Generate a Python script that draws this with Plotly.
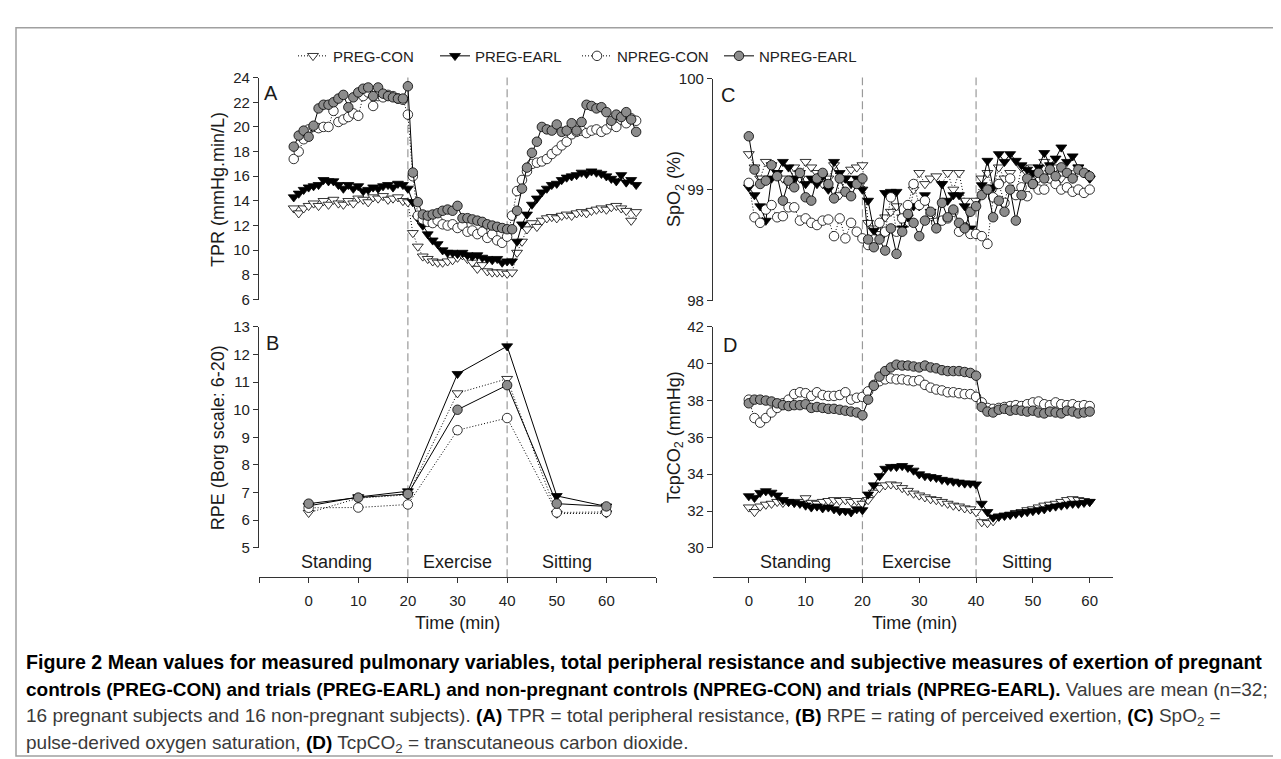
import plotly.graph_objects as go

W, H = 1281, 759
def px(x): return x / W
def py(y): return 1 - y / H

FONT = "Liberation Sans, Arial, sans-serif"

# ---------------- data ----------------
names = ["PREG-CON", "PREG-EARL", "NPREG-CON", "NPREG-EARL"]

# Panel A: TPR, one value per minute from -3 to 66
tA = list(range(-3, 67))
tpr_preg_con = [13.4, 13.0, 13.4, 13.6, 13.8, 13.6, 14.0, 13.7, 14.1, 13.8, 13.7, 14.0, 13.8, 14.2, 14.1, 13.9, 14.3, 14.2, 14.4, 14.1, 14.2, 14.3, 14.0, 13.9,
                11.4, 10.3, 9.5, 9.3, 9.1, 9.0, 9.0, 9.1, 9.2, 9.4, 9.6, 9.3, 9.0, 8.5, 8.8, 8.3, 8.2, 8.2, 8.2, 8.1,
                8.2, 9.8, 10.7, 11.7, 12.2, 11.9, 12.4, 12.6, 12.7, 12.6, 12.8, 12.9, 12.8, 13.0, 13.1, 13.0, 13.2, 13.3, 13.4, 13.3, 13.5, 13.6, 13.4, 13.2, 12.4, 13.1]
tpr_preg_earl = [14.3, 14.6, 14.9, 15.1, 15.2, 15.3, 15.7, 15.6, 15.6, 15.3, 15.0, 15.3, 15.0, 15.2, 14.8, 14.9, 15.1, 15.0, 15.2, 15.3, 15.1, 15.4, 15.3, 15.0,
                 13.9, 12.6, 12.0, 11.3, 10.8, 10.5, 10.0, 9.8, 9.8, 9.7, 9.8, 9.6, 9.5, 9.6, 9.4, 9.3, 9.2, 9.3, 9.0, 9.1,
                 9.1, 10.7, 12.1, 12.9, 13.7, 14.2, 14.7, 15.0, 15.3, 15.4, 15.7, 15.9, 16.0, 16.1, 16.3, 16.2, 16.4, 16.3, 16.2, 16.0, 15.8, 15.6, 16.1, 15.5, 15.7, 15.3]
tpr_npreg_con = [17.4, 18.0, 19.0, 19.8, 20.0, 19.9, 20.0, 20.0, 21.3, 20.4, 20.6, 20.8, 21.1, 20.9, 22.5, 22.8, 21.7, 22.5, 22.4, 22.6, 22.5, 22.3, 22.2, 21.0,
                 16.0, 12.8, 12.5, 12.3, 12.2, 12.4, 12.1, 12.0, 12.1, 11.8, 12.0, 11.5, 11.6, 11.3, 11.5, 11.0, 11.3, 10.8, 10.6, 11.1,
                 12.8, 14.8, 15.7, 16.4, 17.0, 17.1, 17.2, 17.4, 17.8, 18.1, 18.5, 18.8, 19.4, 19.6, 19.7, 19.5, 19.7, 19.8, 19.6, 19.8, 20.2, 20.0, 20.6, 20.3, 20.7, 20.5]
tpr_npreg_earl = [18.4, 19.3, 19.7, 19.2, 20.1, 21.5, 21.8, 21.8, 22.0, 22.3, 22.6, 21.6, 22.4, 22.8, 23.1, 23.2, 22.5, 23.2, 22.7, 22.5, 22.4, 22.3, 22.3, 23.3,
                  16.3, 13.9, 12.9, 12.8, 12.9, 13.0, 13.2, 13.3, 13.2, 13.6, 12.6, 12.6, 12.5, 12.4, 12.3, 12.1, 12.0, 11.9, 11.8, 11.7,
                  11.7, 13.2, 15.0, 16.7, 17.9, 18.8, 20.0, 19.8, 19.7, 20.2, 19.6, 19.7, 20.3, 19.7, 20.4, 21.8, 21.7, 21.5, 21.6, 21.2, 20.5, 21.0, 20.8, 21.2, 20.6, 19.6]

# Panel B: RPE
tB = [0, 10, 20, 30, 40, 50, 60]
rpe_preg_con = [6.27, 6.80, 6.92, 10.60, 11.12, 6.24, 6.25]
rpe_preg_earl = [6.52, 6.84, 7.05, 11.30, 12.30, 6.88, 6.50]
rpe_npreg_con = [6.45, 6.46, 6.57, 9.26, 9.70, 6.28, 6.30]
rpe_npreg_earl = [6.60, 6.82, 6.95, 10.00, 10.89, 6.60, 6.50]

# Panels C, D: one value per minute from 0 to 60
tC = list(range(0, 61))
spo2_preg_con = [99.32, 99.20, 99.10, 99.25, 99.22, 99.15, 99.10, 99.05, 99.20, 99.10, 99.25, 99.20, 99.15, 99.05, 99.10, 99.22, 98.95, 99.10, 99.18, 99.20, 99.22,
                 98.70, 98.65, 98.60, 98.75, 98.80, 98.85, 98.75, 98.70, 99.00, 99.15, 99.05, 99.10, 99.12, 99.05, 99.15, 99.00, 99.15, 98.90, 98.80, 98.90,
                 99.10, 99.15, 99.00, 99.20, 99.10, 99.15, 98.95, 99.20, 99.15, 99.20, 99.10, 99.25, 99.15, 99.20, 99.10, 99.15, 99.10, 99.20, 99.15, 99.10]
spo2_preg_earl = [99.02, 98.95, 98.85, 98.72, 99.10, 99.15, 99.25, 99.20, 99.10, 99.15, 99.05, 99.10, 99.05, 99.12, 99.00, 99.25, 99.15, 99.10, 99.05, 99.10, 99.00,
                  98.90, 98.63, 98.55, 98.97, 98.98, 98.98, 98.65, 98.75, 98.85, 98.85, 98.95, 98.80, 98.70, 99.05, 98.90, 98.95, 98.95, 98.85, 98.65, 98.60,
                  99.04, 99.26, 99.02, 99.32, 99.25, 99.32, 99.26, 99.22, 99.18, 99.15, 99.20, 99.33, 99.22, 99.28, 99.38, 99.25, 99.30, 99.20, 99.15, 99.10]
spo2_npreg_con = [99.06, 98.75, 98.70, 98.82, 98.86, 98.75, 98.76, 98.84, 98.84, 98.72, 98.74, 98.70, 98.68, 98.72, 98.73, 98.58, 98.74, 98.56, 98.70, 98.62, 98.56,
                  98.50, 98.55, 98.70, 98.62, 98.93, 98.62, 98.74, 98.86, 99.05, 98.86, 98.90, 98.78, 98.70, 98.72, 98.74, 98.80, 98.62, 98.66, 98.60, 98.60,
                  98.58, 98.51, 98.93, 99.05, 98.88, 99.10, 98.95, 99.02, 98.94, 99.05, 99.00, 99.00, 99.10, 99.05, 99.00, 99.02, 98.98, 99.00, 98.97, 99.00]
spo2_npreg_earl = [99.48, 99.18, 99.05, 99.08, 99.22, 99.12, 98.90, 99.08, 99.02, 99.15, 98.93, 98.90, 99.10, 99.15, 99.05, 98.92, 99.10, 98.98, 98.94, 99.05, 99.10,
                   98.55, 98.48, 98.55, 98.45, 98.65, 98.42, 98.62, 98.78, 98.70, 98.58, 98.72, 98.80, 98.65, 98.88, 98.75, 98.82, 98.70, 98.65, 98.80, 98.85,
                   98.95, 99.00, 98.75, 98.90, 98.80, 99.00, 98.72, 98.95, 99.10, 99.05, 99.15, 99.10, 99.18, 99.12, 99.20, 99.15, 99.10, 99.18, 99.15, 99.12]

tcp_preg_con = [32.20, 31.95, 32.25, 32.35, 32.40, 32.50, 32.45, 32.50, 32.45, 32.50, 32.70, 32.45, 32.40, 32.50, 32.55, 32.60, 32.55, 32.60, 32.50, 32.55, 32.40,
                32.60, 33.00, 33.25, 33.40, 33.45, 33.40, 33.25, 33.10, 32.95, 32.85, 32.75, 32.65, 32.60, 32.50, 32.40, 32.30, 32.25, 32.15, 32.10, 31.95,
                31.40, 31.35, 31.45, 31.70, 31.75, 31.80, 31.90, 31.95, 32.05, 32.10, 32.20, 32.30, 32.35, 32.40, 32.50, 32.60, 32.65, 32.60, 32.55, 32.50]
tcp_preg_earl = [32.81, 32.72, 32.99, 33.08, 33.00, 32.85, 32.60, 32.50, 32.45, 32.40, 32.30, 32.20, 32.25, 32.15, 32.20, 32.10, 32.00, 32.00, 31.93, 32.10, 32.05,
                 32.90, 33.40, 33.90, 34.30, 34.40, 34.40, 34.45, 34.35, 34.20, 34.00, 33.90, 33.85, 33.80, 33.70, 33.65, 33.60, 33.55, 33.50, 33.50, 33.45,
                 32.40, 31.95, 31.65, 31.70, 31.75, 31.80, 31.85, 31.90, 31.95, 32.00, 32.05, 32.10, 32.20, 32.25, 32.30, 32.35, 32.40, 32.40, 32.45, 32.50]
tcp_npreg_con = [38.05, 37.05, 36.80, 37.05, 37.35, 37.60, 37.85, 38.05, 38.35, 38.45, 38.40, 38.25, 38.45, 38.30, 38.25, 38.25, 38.30, 38.45, 38.05, 38.15, 38.20,
                 38.50, 38.85, 39.05, 39.15, 39.20, 39.15, 39.15, 39.10, 39.05, 39.10, 38.85, 38.70, 38.60, 38.55, 38.45, 38.45, 38.40, 38.35, 38.35, 38.20,
                 37.90, 37.60, 37.55, 37.60, 37.65, 37.70, 37.75, 37.70, 37.80, 37.90, 37.95, 37.80, 37.75, 37.90, 37.80, 37.75, 37.80, 37.70, 37.75, 37.70]
tcp_npreg_earl = [37.85, 38.05, 38.05, 38.00, 37.95, 37.85, 37.75, 37.70, 37.75, 37.75, 37.80, 37.60, 37.65, 37.60, 37.55, 37.55, 37.50, 37.45, 37.40, 37.35, 37.20,
                  38.05, 38.80, 39.30, 39.60, 39.80, 39.95, 39.90, 39.90, 39.85, 39.80, 39.90, 39.80, 39.75, 39.65, 39.60, 39.60, 39.60, 39.55, 39.50, 39.35,
                  37.65, 37.40, 37.35, 37.50, 37.55, 37.45, 37.50, 37.45, 37.40, 37.45, 37.35, 37.30, 37.40, 37.35, 37.30, 37.45, 37.40, 37.30, 37.35, 37.40]

phases = ["Standing", "Exercise", "Sitting"]
phase_pos_left = [5.7, 30, 52]
phase_pos_right = [8.3, 29.6, 49]
xticks_left = [0, 10, 20, 30, 40, 50, 60]
xticks_left_ends = [-10, 70]
xticks_right = [0, 10, 20, 30, 40, 50, 60]
boundaries = [20, 40]

# ---------------- styles ----------------
GRAY = "#8c8c8c"
styles = {
    "PREG-CON": dict(symbol="triangle-down", fill="white", dash="1px,2px"),
    "PREG-EARL": dict(symbol="triangle-down", fill="black", dash="solid"),
    "NPREG-CON": dict(symbol="circle", fill="white", dash="1px,2px"),
    "NPREG-EARL": dict(symbol="circle", fill=GRAY, dash="solid"),
}

fig = go.Figure()

def add(x, y, name, xa, ya, show):
    s = styles[name]
    fig.add_trace(go.Scatter(
        x=x, y=y, name=name, mode="lines+markers", xaxis=xa, yaxis=ya,
        legendgroup=name, showlegend=show,
        line=dict(color="black", width=1, dash=s["dash"]),
        marker=dict(symbol=s["symbol"], size=9.5, color=s["fill"],
                    line=dict(color="black", width=0.8)),
    ))

A = [tpr_preg_con, tpr_preg_earl, tpr_npreg_con, tpr_npreg_earl]
B = [rpe_preg_con, rpe_preg_earl, rpe_npreg_con, rpe_npreg_earl]
C = [spo2_preg_con, spo2_preg_earl, spo2_npreg_con, spo2_npreg_earl]
D = [tcp_preg_con, tcp_preg_earl, tcp_npreg_con, tcp_npreg_earl]
for i, n in enumerate(names):
    add(tA, A[i], n, "x", "y", True)
for i, n in enumerate(names):
    add(tB, B[i], n, "x2", "y2", False)
for i, n in enumerate(names):
    add(tC, C[i], n, "x3", "y3", False)
for i, n in enumerate(names):
    add(tC, D[i], n, "x4", "y4", False)

AX = dict(showline=True, linecolor="#333", linewidth=1.3, ticks="outside", ticklen=5,
          tickcolor="#333", tickwidth=1.2, showgrid=False, zeroline=False,
          tickfont=dict(family=FONT, size=15, color="#222"))

LX = [px(251), px(648)]
RX = [px(705), px(1105)]
TOP = [py(289), py(62)]
BOT = [py(543), py(317)]

fig.update_layout(
    xaxis=dict(domain=LX, range=[-10, 70], anchor="y", visible=False),
    yaxis=dict(domain=TOP, range=[6, 24], anchor="x", tickvals=list(range(6, 25, 2)), **AX),
    xaxis2=dict(domain=LX, range=[-10, 70], anchor="free", position=py(573),
                tickvals=xticks_left, ticklabelstandoff=5,
                minor=dict(tickvals=xticks_left_ends, ticks="outside", ticklen=5, tickcolor="#333", tickwidth=1.2),
                **AX),
    yaxis2=dict(domain=BOT, range=[5, 13], anchor="x2", tickvals=list(range(5, 14)), **AX),
    xaxis3=dict(domain=RX, range=[-6.3, 64.1], anchor="y3", visible=False),
    yaxis3=dict(domain=[py(290), py(63)], range=[98, 100], anchor="x3", tickvals=[98, 99, 100], **AX),
    xaxis4=dict(domain=RX, range=[-6.3, 64.1], anchor="free", position=py(573),
                tickvals=xticks_right, ticklabelstandoff=5, **AX),
    yaxis4=dict(domain=BOT, range=[30, 42], anchor="x4", tickvals=list(range(30, 43, 2)), **AX),
)

# dashed phase boundaries
for xa in ["x2", "x4"]:
    for b in boundaries:
        fig.add_shape(type="line", xref=xa, yref="paper", x0=b, x1=b, y0=py(573), y1=py(62),
                      line=dict(color="#9a9a9a", width=1.2, dash="8px,4px"), layer="below")

ann = []
def text(x, y, s, size=18, xref="paper", angle=0, xanchor="center", color="#1a1a1a"):
    ann.append(dict(x=x, y=y, xref=xref, yref="paper", text=s, showarrow=False, textangle=angle,
                    xanchor=xanchor, yanchor="middle", font=dict(family=FONT, size=size, color=color)))

for lbl, xv in zip(phases, phase_pos_left):
    text(xv, py(557), lbl, xref="x2")
for lbl, xv in zip(phases, phase_pos_right):
    text(xv, py(557), lbl, xref="x4")

text(px(449), py(620), "Time (min)")
text(px(906), py(620), "Time (min)")
text(px(210), py(176), "TPR (mmHg.min/L)", angle=-90)
text(px(210), py(430), "RPE (Borg scale: 6-20)", angle=-90)
text(px(667), py(176), "SpO<sub>2</sub> (%)", angle=-90)
text(px(667), py(430), "TcpCO<sub>2</sub> (mmHg)", angle=-90)
text(px(263), py(78), "A", size=20)
text(px(264), py(333), "B", size=20)
text(px(720), py(80), "C", size=20)
text(px(722), py(336), "D", size=20)

def B_(s):
    return "<b><span style='color:#000'>" + s + "</span></b>"

cap = [
    B_("Figure 2 Mean values for measured pulmonary variables, total peripheral resistance and subjective measures of exertion of pregnant"),
    B_("controls (PREG-CON) and trials (PREG-EARL) and non-pregnant controls (NPREG-CON) and trials (NPREG-EARL).") + " Values are mean (n=32;",
    "16 pregnant subjects and 16 non-pregnant subjects). " + B_("(A)") + " TPR = total peripheral resistance, " + B_("(B)")
    + " RPE = rating of perceived exertion, " + B_("(C)") + " SpO<sub>2</sub> =",
    "pulse-derived oxygen saturation, " + B_("(D)") + " TcpCO<sub>2</sub> = transcutaneous carbon dioxide.",
]
cap_sizes = [19.6, 19, 19, 19]
for i, line in enumerate(cap):
    text(px(16), py(660 + 28 * i), line, size=cap_sizes[i], xanchor="left", color="#3a3a3a")

fig.update_layout(annotations=ann)

# frame
fig.add_shape(type="rect", xref="paper", yref="paper", x0=px(8), x1=px(1273), y0=py(756), y1=py(11),
              line=dict(color="#a0a0a0", width=1.5), layer="below")

fig.update_layout(
    width=W, height=H, margin=dict(l=0, r=0, t=0, b=0),
    paper_bgcolor="white", plot_bgcolor="white",
    font=dict(family=FONT, size=15, color="#222"),
    legend=dict(orientation="h", x=px(285), y=py(40), xanchor="left", yanchor="middle",
                font=dict(family=FONT, size=15, color="#222"), bgcolor="rgba(0,0,0,0)",
                entrywidth=97, entrywidthmode="pixels", itemwidth=30, tracegroupgap=0),
)

fig.write_html("out.html")
